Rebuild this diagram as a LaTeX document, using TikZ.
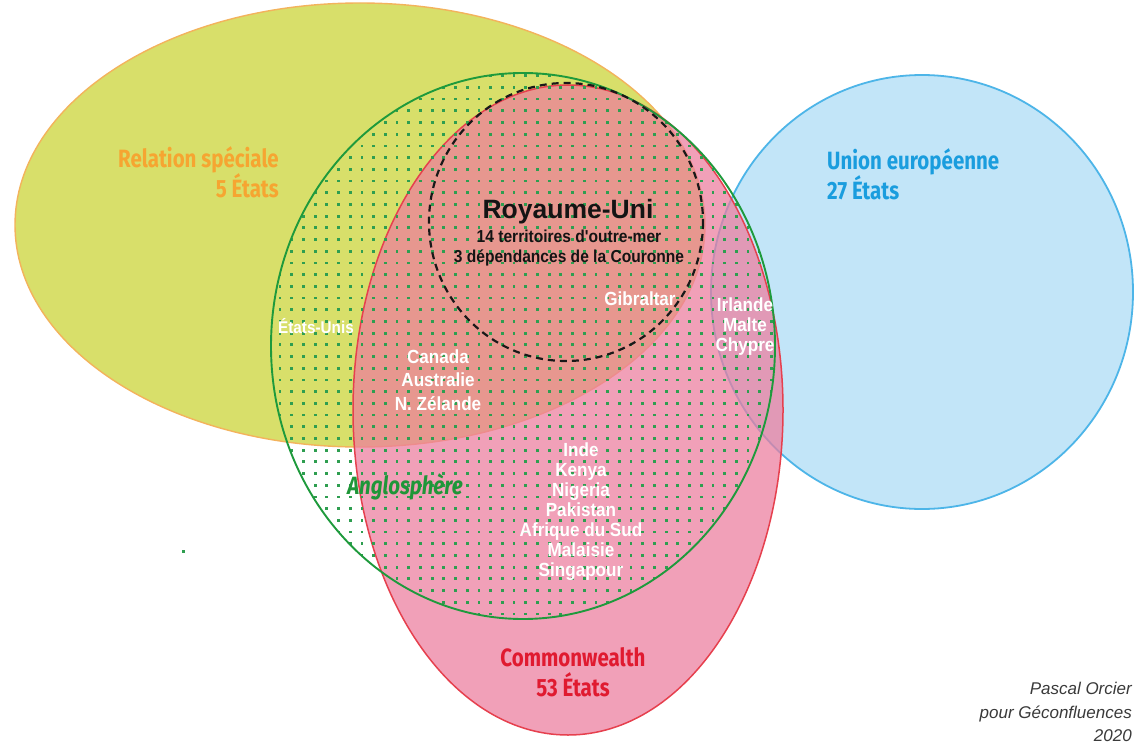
\documentclass[tikz,border=0pt]{standalone}
\usepackage{fontspec}
\setmainfont{Liberation Sans}
\newfontfamily\robo[FakeStretch=0.9]{Liberation Sans}
\newfontfamily\cond[FakeStretch=0.82]{Fira Sans}
\definecolor{yel}{HTML}{D8DF6A}
\definecolor{yelline}{HTML}{F3B35C}
\definecolor{blu}{HTML}{C2E5F8}
\definecolor{bluline}{HTML}{4DB5E8}
\definecolor{pnk}{RGB}{237,125,158}
\definecolor{redline}{HTML}{E6404E}
\definecolor{grn}{HTML}{1E9A3C}
\definecolor{dotc}{HTML}{2E9E50}
\definecolor{orangetxt}{HTML}{F6A531}
\definecolor{bluetxt}{HTML}{1A9DDE}
\definecolor{redtxt}{HTML}{E01A30}
\definecolor{grntxt}{HTML}{1F9638}
\definecolor{credit}{HTML}{3A3A3A}
\begin{document}
\begin{tikzpicture}[x=1pt,y=-1pt,
  country/.style={text=white, font=\robo\bfseries\fontsize{19}{20}\selectfont, align=center, inner sep=0pt},
  setlabel/.style={font=\cond\bfseries\fontsize{25}{30}\selectfont, inner sep=0pt},
  creditstyle/.style={text=credit, font=\itshape\fontsize{17}{23.5}\selectfont, align=right, inner sep=0pt, anchor=north east}]
\useasboundingbox (0,0) rectangle (1134,749);
\fill[white] (0,0) rectangle (1134,749);
% Relation speciale
\fill[yel] (360,225) ellipse [x radius=345, y radius=222];
\draw[yelline, line width=1.4pt] (360,225) ellipse [x radius=345, y radius=222];
% UK area (part of special relationship)
\fill[yel] (566,222) ellipse [x radius=137, y radius=139];
% Union europeenne
\fill[blu] (922,292) ellipse [x radius=211, y radius=217];
\draw[bluline, line width=1.8pt] (922,292) ellipse [x radius=211, y radius=217];
% Commonwealth
\fill[pnk, fill opacity=0.73] (568,410) ellipse [x radius=215, y radius=325];
\draw[redline, line width=1.5pt] (568,410) ellipse [x radius=215, y radius=325];
% Anglosphere dots
\begin{scope}
  \clip (523,346) ellipse [x radius=252, y radius=273];
  \foreach \i in {0,...,44} {
    \foreach \j in {0,...,48} {
      \fill[dotc] ({268.3+11.7*\i-1.4},{64+11.7*\j-1.4}) rectangle ++(2.8,2.8);
    }
  }
\end{scope}
\draw[grn, line width=1.9pt] (523,346) ellipse [x radius=252, y radius=273];
% UK dashed
\draw[black!90, line width=2.2pt, dash pattern=on 7pt off 5pt] (566,222) ellipse [x radius=137, y radius=139];
% stray dot
\fill[dotc] (182,550) rectangle ++(2.6,2.6);
% texts
\node[font=\bfseries\fontsize{26.5}{30}\selectfont, text=black!92, inner sep=0pt] (ru) at (568,212) {Royaume-Uni};
\node[font=\robo\bfseries\fontsize{17.3}{19.5}\selectfont, text=black!92, align=center, inner sep=0pt] (rusub) at (569,248) {14 territoires d'outre-mer\\3 dépendances de la Couronne};
\node[setlabel, text=orangetxt, align=right, anchor=east] (rs) at (279,172) {Relation spéciale\\5 États};
\node[setlabel, text=bluetxt, align=left, anchor=west] (ue) at (827,174) {Union européenne\\27 États};
\node[setlabel, text=redtxt, align=center] (cw) at (573,672) {Commonwealth\\53 États};
\node[setlabel, text=grntxt, font=\cond\bfseries\itshape\fontsize{25}{30}\selectfont] (ang) at (405,487) {Anglosphère};
\node[country, font=\robo\bfseries\fontsize{17}{20}\selectfont] (us) at (316,326) {États-Unis};
\node[country, font=\robo\bfseries\fontsize{19}{23.5}\selectfont] (can) at (438,380) {Canada\\Australie\\N. Zélande};
\node[country] (gib) at (640,299) {Gibraltar};
\node[country] (eu3) at (745,327) {Irlande\\Malte\\Chypre};
\node[country] (ind) at (581,512) {Inde\\Kenya\\Nigeria\\Pakistan\\Afrique du Sud\\Malaisie\\Singapour};
\node[creditstyle] (cr) at (1132,682) {Pascal Orcier\\pour Géconfluences\\2020};
\end{tikzpicture}
\end{document}
